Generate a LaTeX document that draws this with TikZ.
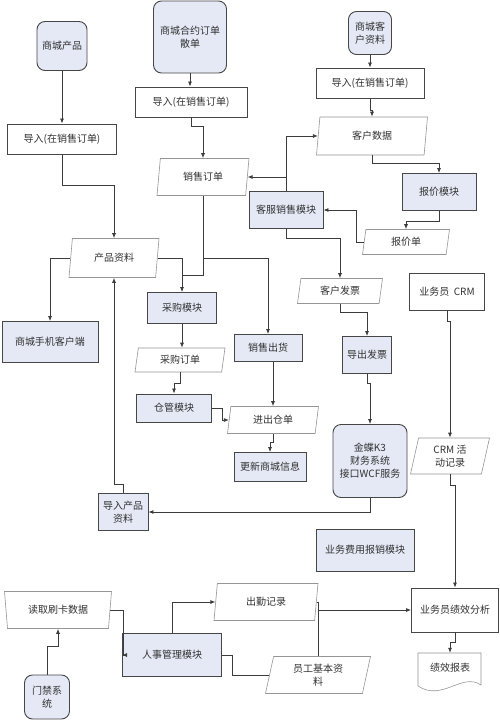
\documentclass[tikz,border=0pt]{standalone}
\usepackage{fontspec}
\setmainfont{Noto Sans CJK SC}
\usetikzlibrary{shapes.geometric,arrows.meta,calc}
\definecolor{modfill}{RGB}{228,233,245}
\definecolor{bordc}{RGB}{70,70,70}
\definecolor{pbord}{RGB}{150,150,150}
\definecolor{txtc}{RGB}{50,50,50}
\definecolor{linec}{RGB}{60,60,60}
\begin{document}
\begin{tikzpicture}[x=1pt,y=-1pt,
  font=\fontsize{10}{13}\selectfont,
  base/.style={inner sep=0pt, align=center, text=txtc},
  box/.style={base, rectangle, draw=bordc, line width=0.9pt, fill=white},
  mod/.style={box, fill=modfill},
  rbox/.style={mod, rounded corners=8pt},
  data/.style={base, trapezium, trapezium left angle=70, trapezium right angle=110,
    trapezium stretches body, draw=pbord, line width=0.6pt, fill=white},
  trap/.style={base, trapezium, trapezium left angle=108, trapezium right angle=108,
    trapezium stretches body, draw=pbord, line width=0.6pt, fill=white},
  con/.style={draw=linec, line width=0.8pt},
  arr/.style={con, -{Latex[length=5pt,width=4pt]}},
  sz/.style 2 args={minimum width=#1pt, minimum height=#2pt}
]
\fill[white] (0,0) rectangle (500,720);
\useasboundingbox (0,0) rectangle (500,720);

% nodes
\node[rbox, sz={50}{49}] (scp) at (62,46) {商城产品};
\node[rbox, sz={73}{72}] (hydd) at (190,37) {商城合约订单\\散单};
\node[rbox, sz={43}{43}] (kh) at (370,33) {商城客\\户资料};
\node[box, sz={109}{30}] (impL) at (62,139) {导入(在销售订单)};
\node[box, sz={112}{30}] (impM) at (191,102) {导入(在销售订单)};
\node[box, sz={108}{30}] (impR) at (370,83) {导入(在销售订单)};
\node[data, sz={111}{38}] (khsj) at (372,136) {客户数据};
\node[data, sz={92}{37}] (xsdd) at (203,177) {销售订单};
\node[mod, sz={74}{37}] (bjmk) at (439,192) {报价模块};
\node[mod, sz={74}{37}] (kfxs) at (286,210) {客服销售模块};
\node[data, sz={87}{25}] (bjd) at (406,242) {报价单};
\node[data, sz={90}{39}] (cpzl) at (114,258) {产品资料};
\node[mod, sz={96}{41}] (sjkhd) at (50,342) {商城手机客户端};
\node[mod, sz={69}{31}] (cgmk) at (182,308) {采购模块};
\node[data, sz={85}{25}] (khfp) at (340,291) {客户发票};
\node[mod, sz={49}{37}] (dcfp) at (367,355) {导出发票};
\node[box, sz={75}{37}] (crm) at (447,292) {业务员\ \ CRM};
\node[mod, sz={68}{27}] (xsch) at (268,348) {销售出货};
\node[data, sz={90}{24}] (cgdd) at (180,360) {采购订单};
\node[mod, sz={75}{28}] (cgk) at (174,408) {仓管模块};
\node[data, sz={91}{27}] (jccd) at (273,420) {进出仓单};
\node[mod, sz={72}{29}] (gxsc) at (270,467) {更新商城信息};
\node[rbox, sz={74}{73}] (jd) at (370,461) {金蝶K3\\财务系统\\接口WCF服务};
\node[data, sz={79}{36}] (crmhd) at (450,456) {CRM 活\\动记录};
\node[mod, sz={50}{37}] (drcp) at (123,512) {导入产品\\资料};
\node[mod, sz={98}{42}] (ywfy) at (365,550) {业务费用报销模块};
\node[trap, sz={107}{37}] (dqsk) at (58,610) {读取刷卡数据};
\node[data, sz={104}{37}] (cqjl) at (266,602) {出勤记录};
\node[mod, sz={99}{43}] (rsgl) at (172,655) {人事管理模块};
\node[box, sz={87}{44}] (jxfx) at (455,610) {业务员绩效分析};
\node[data, sz={105}{37}] (ygjb) at (318,675) {员工基本资\\料};
\node[rbox, sz={45}{44}] (mj) at (47,697) {门禁系\\统};
\draw[draw=pbord, line width=0.6pt, fill=white] (418,653) -- (481,653) -- (481,685)
  .. controls (462,672) and (442,702) .. (418,686) -- cycle;
\node[base, sz={63}{30}] (jxbb) at (450,668) {绩效报表};

% connectors
\draw[arr] (scp.south) -- (scp.south |- impL.north);
\draw[arr] (hydd.south) -- (hydd.south |- impM.north);
\draw[arr] (kh.south) -- (kh.south |- impR.north);
\draw[arr] (impL.south) -- ++(0,31) -| (cpzl.north);
\draw[arr] (impM.south) -- ++(0,9) -| (xsdd.north);
\draw[arr] (impR.south) -- ++(0,12) -| (khsj.north);
\draw[arr] (khsj.south) -- ++(0,8) -| (bjmk.north);
\draw[arr] (bjmk.south) -- ++(0,10) -| (bjd.north);
\draw[arr] (bjd.west) -- ++(-7,0) |- (kfxs.east);
\draw[arr] (kfxs.north) |- (khsj.west);
\draw[arr] (kfxs.north |- xsdd.east) -- (xsdd.east);
\draw[arr] (kfxs.south) -- ++(0,9) -| (khfp.north);
\draw[arr] (khfp.south) -- ++(0,9) -| (dcfp.north);
\draw[arr] (dcfp.south) -- ++(0,9) -| (jd.north);
\draw[arr] (jd.south) |- (drcp.east);
\draw[arr] (drcp.north) -- ++(0,-9) -| (cpzl.south);
\draw[arr] (cpzl.west) -| (sjkhd.north);
\draw[arr] (cpzl.east) -| (cgmk.north);
\coordinate (j1) at (xsdd.south |- 0,275);
\draw[con] (xsdd.south) -- (j1) -- (cgmk.north |- j1);
\draw[arr] (xsdd.south |- cpzl.east) -| (xsch.north);
\draw[arr] (cgmk.south) -- (cgmk.south |- cgdd.north);
\draw[arr] (cgdd.south) -- ++(0,11) -| (cgk.north);
\draw[arr] (cgk.east) -- ++(10,0) |- (jccd.west);
\draw[arr] (jccd.north |- xsch.south) -- (jccd.north);
\draw[arr] (jccd.south) -- ++(0,9) -| (gxsc.north);
\draw[arr] (crm.south) -- ++(0,10) -| (crmhd.north);
\draw[arr] (crmhd.south) -- ++(0,11) -| (jxfx.north);
\draw[arr] (jxfx.south) -- ++(0,10) -| (jxbb.north);
\draw[arr] (mj.north) -- ++(0,-28) -| (dqsk.south);
\draw[arr] (dqsk.east) -- ++(13,0) |- (rsgl.west);
\draw[arr] (rsgl.north) |- (cqjl.west);
\draw[con] (rsgl.east) -- ++(10,0) |- (ygjb.west);
\draw[con] (cqjl.east) -| (ygjb.north);
\draw[arr] (ygjb.north |- jxfx.west) -- (jxfx.west);
\end{tikzpicture}
\end{document}
